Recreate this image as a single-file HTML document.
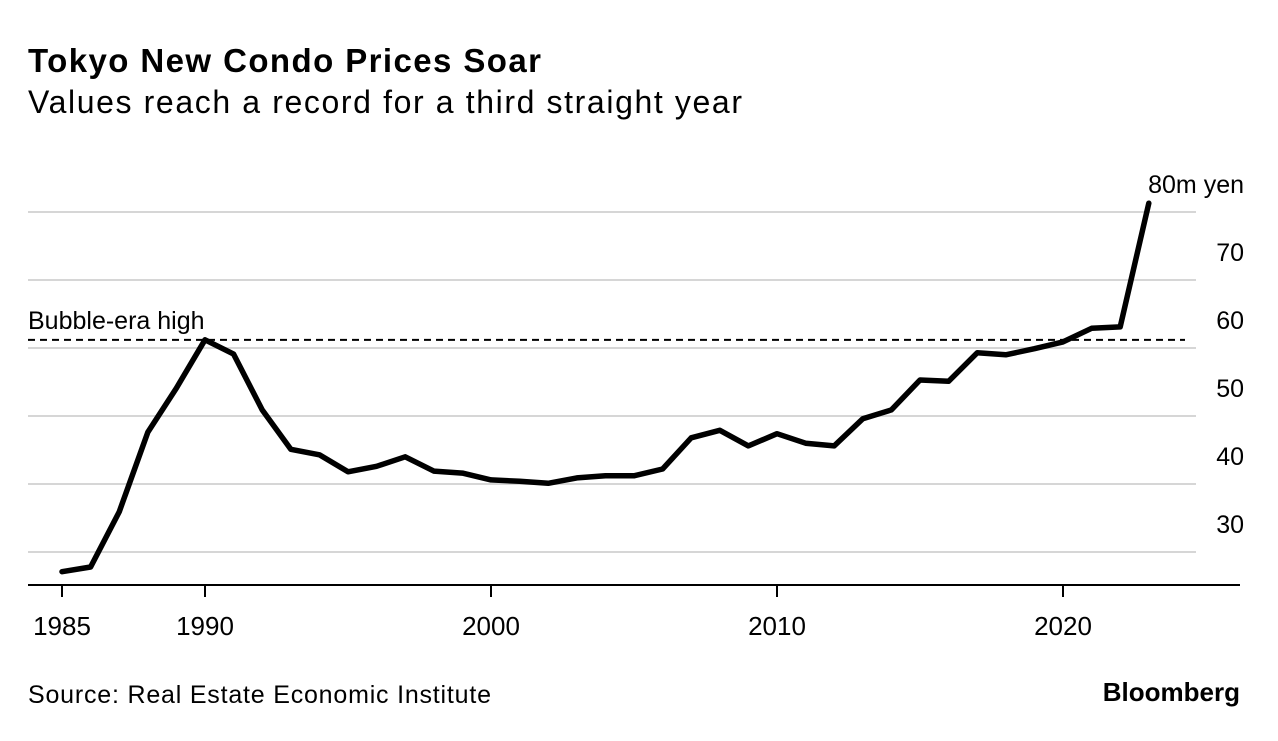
<!DOCTYPE html>
<html><head><meta charset="utf-8"><style>
body{margin:0;background:#fff;font-family:"Liberation Sans",sans-serif;}
svg text{font-family:"Liberation Sans",sans-serif;}
</style></head><body>
<svg width="1278" height="736" viewBox="0 0 1278 736">
<text x="28" y="72" font-size="33" font-weight="bold" fill="#000" textLength="513">Tokyo New Condo Prices Soar</text>
<text x="28" y="113" font-size="32" fill="#000" textLength="714">Values reach a record for a third straight year</text>
<g id="grid"></g>
<g id="plot"></g>
<text x="28" y="703" font-size="25" fill="#000" textLength="463">Source: Real Estate Economic Institute</text>
<text x="1240" y="701" font-size="26" font-weight="bold" text-anchor="end" fill="#000">Bloomberg</text>
</svg>
<script>
const years=[1985,1986,1987,1988,1989,1990,1991,1992,1993,1994,1995,1996,1997,1998,1999,2000,2001,2002,2003,2004,2005,2006,2007,2008,2009,2010,2011,2012,2013,2014,2015,2016,2017,2018,2019,2020,2021,2022,2023];
const prices=[27.1,27.8,35.9,47.6,54.1,61.2,59.1,50.9,45.1,44.3,41.8,42.6,44.0,41.9,41.6,40.6,40.4,40.1,40.9,41.2,41.2,42.2,46.8,47.9,45.6,47.4,46.0,45.6,49.6,50.9,55.3,55.1,59.3,59.0,59.9,60.9,62.9,63.1,81.3];
const yTicks=[30,40,50,60,70,80];
const xTicks=[1985,1990,2000,2010,2020];
const bubbleHigh=61.2;
const NS="http://www.w3.org/2000/svg";
const xs=y=>62+(y-1985)*28.6;
const ys=v=>212+(80-v)*6.8;
const grid=document.getElementById('grid'),plot=document.getElementById('plot');
function mk(tag,attrs,parent){const e=document.createElementNS(NS,tag);for(const k in attrs)e.setAttribute(k,attrs[k]);parent.appendChild(e);return e;}
yTicks.forEach(t=>{
 const l=mk('line',{x1:28,x2:1196,y1:ys(t),y2:ys(t),stroke:'#d6d6d6','stroke-width':2},grid);
 
 
 const tx=mk('text',{x:1244,y:ys(t)-19,'font-size':25,'text-anchor':'end',fill:'#000'},grid);
 tx.textContent=t===80?'80m yen':String(t);
 
 
});
const ax=mk('line',{x1:28,x2:1240,y1:585,y2:585,stroke:'#000','stroke-width':2},grid);


xTicks.forEach(t=>{
 const tk=mk('line',{x1:xs(t),x2:xs(t),y1:585,y2:597,stroke:'#000','stroke-width':2},grid);
 
 
 const tx=mk('text',{x:xs(t),y:635,'font-size':26,'text-anchor':'middle',fill:'#000'},grid);
 tx.textContent=t;
 
 
});
const dl=mk('line',{x1:28,x2:1185,y1:ys(bubbleHigh),y2:ys(bubbleHigh),stroke:'#000','stroke-width':2,'stroke-dasharray':'7,5'},plot);


const bl=mk('text',{x:28,y:ys(bubbleHigh)-11,'font-size':25,fill:'#000'},plot);
bl.textContent='Bubble-era high';


const d=years.map((y,i)=>(i?'L':'M')+xs(y).toFixed(1)+','+ys(prices[i]).toFixed(1)).join('');
const p=mk('path',{d:d,fill:'none',stroke:'#000','stroke-width':5.5,'stroke-linejoin':'round','stroke-linecap':'round'},plot);


</script>
</body></html>
